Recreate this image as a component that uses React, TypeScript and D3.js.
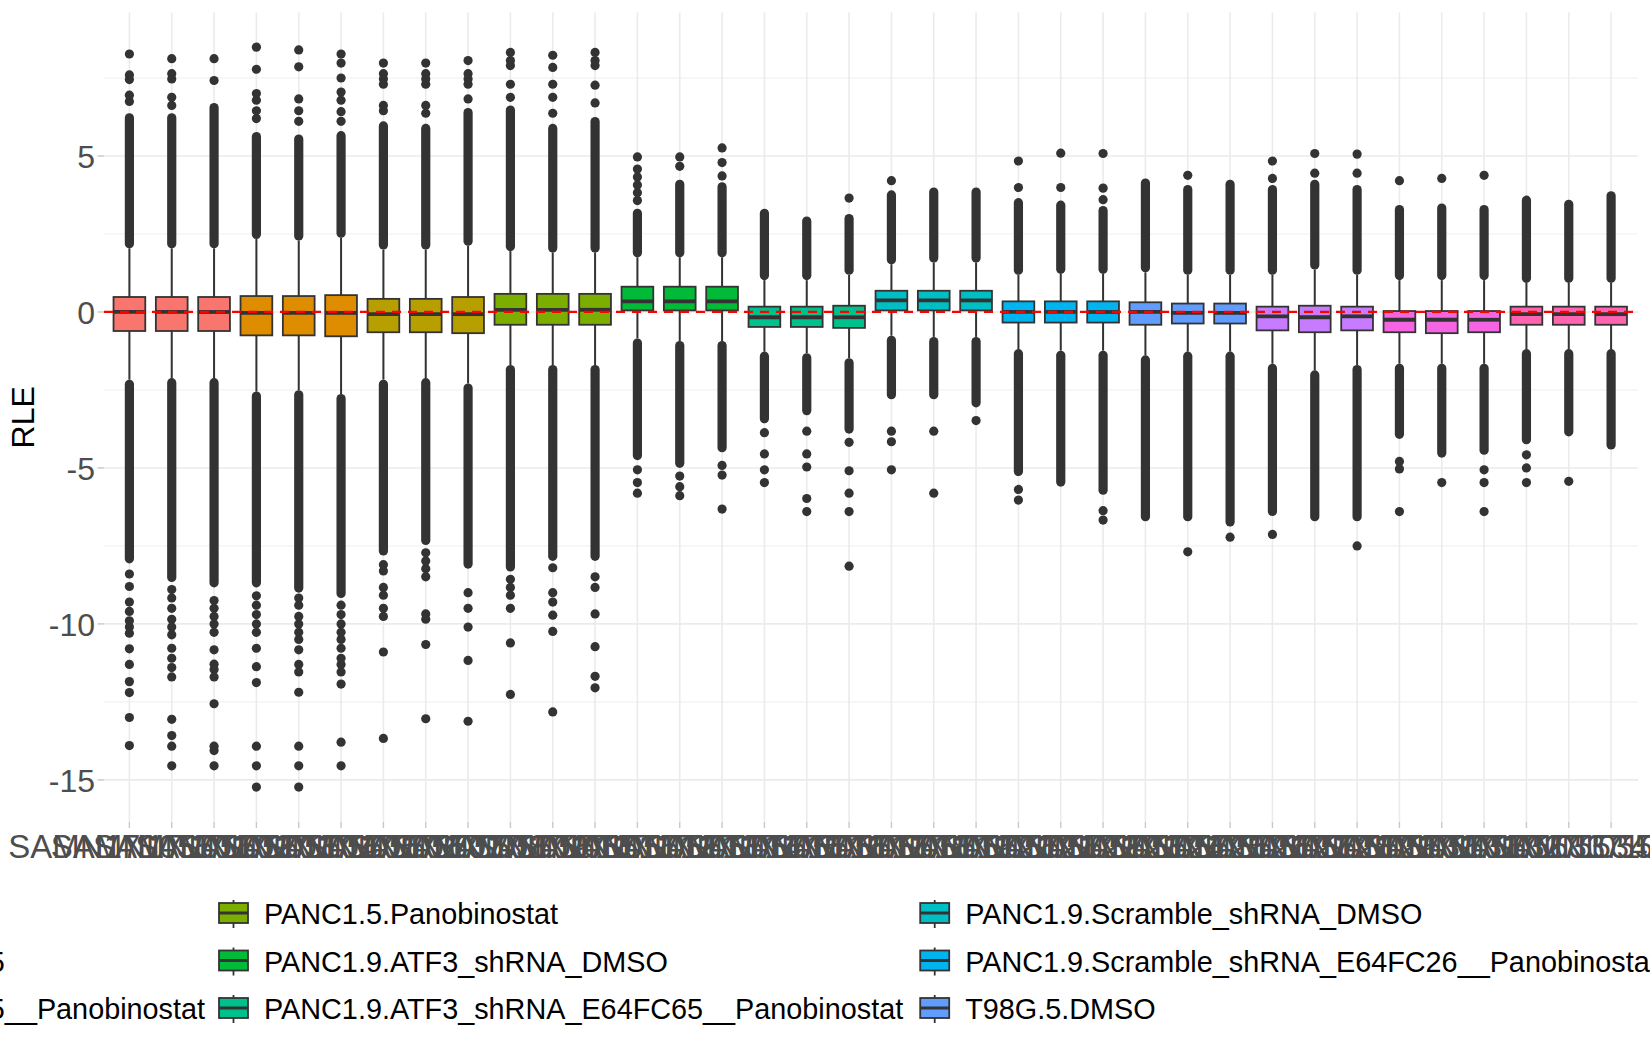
import * as d3 from 'd3';

// sample accessions in plotting order
const sampleIds = [
  'SAMN17105501', 'SAMN17105502', 'SAMN17105503', 'SAMN17105504', 'SAMN17105505', 'SAMN17105506',
  'SAMN17105507', 'SAMN17105508', 'SAMN17105509', 'SAMN17105510', 'SAMN17105511', 'SAMN17105512',
  'SAMN17105513', 'SAMN17105514', 'SAMN17105515', 'SAMN17105516', 'SAMN17105517', 'SAMN17105518',
  'SAMN17105519', 'SAMN17105520', 'SAMN17105521', 'SAMN17105522', 'SAMN17105523', 'SAMN17105524',
  'SAMN17105525', 'SAMN17105526', 'SAMN17105527', 'SAMN17105528', 'SAMN17105529', 'SAMN17105530',
  'SAMN17105531', 'SAMN17105532', 'SAMN17105533', 'SAMN17105534', 'SAMN17105535', 'SAMN17105565',
];

const sampleGroup = [
  0, 0, 0, 1, 1, 1, 2, 2, 2, 3, 3, 3,
  4, 4, 4, 5, 5, 5, 6, 6, 6, 7, 7, 7,
  8, 8, 8, 9, 9, 9, 10, 10, 10, 11, 11, 11,
];

const groupNames = [
  'PANC1.5.DMSO',
  'PANC1.5.E64FC65',
  'PANC1.5.E64FC65__Panobinostat',
  'PANC1.5.Panobinostat',
  'PANC1.9.ATF3_shRNA_DMSO',
  'PANC1.9.ATF3_shRNA_E64FC65__Panobinostat',
  'PANC1.9.Scramble_shRNA_DMSO',
  'PANC1.9.Scramble_shRNA_E64FC26__Panobinostat',
  'T98G.5.DMSO',
  'T98G.5.E64FC65',
  'T98G.5.E64FC65__Panobinostat',
  'T98G.5.Panobinostat',
];

const groupColors = [
  '#F8766D', '#DE8C00', '#B79F00', '#7CAE00', '#00BA38', '#00C08B',
  '#00BFC4', '#00B4F0', '#619CFF', '#C77CFF', '#F564E3', '#FF64B0',
];

const q1Values = [
  -0.61, -0.61, -0.61, -0.75, -0.75, -0.78, -0.65, -0.65, -0.68, -0.41, -0.41, -0.41,
  0.05, 0.05, 0.05, -0.48, -0.48, -0.51, 0.05, 0.05, 0.05, -0.34, -0.34, -0.34,
  -0.41, -0.37, -0.37, -0.59, -0.65, -0.59, -0.65, -0.68, -0.65, -0.41, -0.41, -0.41,
];
const medianValues = [
  0, 0, 0, -0.03, -0.03, -0.03, -0.07, -0.07, -0.07, 0.07, 0.07, 0.07,
  0.34, 0.34, 0.34, -0.17, -0.17, -0.17, 0.37, 0.37, 0.37, 0, 0, 0,
  0, -0.03, -0.03, -0.14, -0.17, -0.14, -0.25, -0.25, -0.25, -0.07, -0.07, -0.07,
];
const q3Values = [
  0.48, 0.48, 0.48, 0.51, 0.51, 0.54, 0.42, 0.42, 0.48, 0.58, 0.58, 0.58,
  0.81, 0.81, 0.81, 0.17, 0.17, 0.2, 0.68, 0.68, 0.68, 0.34, 0.34, 0.34,
  0.31, 0.27, 0.27, 0.17, 0.2, 0.17, 0.03, 0.03, 0.03, 0.17, 0.17, 0.17,
];
const lowerWhiskers = [
  -2.17, -2.12, -2.12, -2.55, -2.51, -2.63, -2.17, -2.12, -2.29, -1.7, -1.7, -1.7,
  -0.85, -0.93, -0.93, -1.27, -1.32, -1.48, -0.76, -0.8, -0.8, -1.19, -1.24, -1.24,
  -1.39, -1.27, -1.27, -1.66, -1.87, -1.7, -1.66, -1.66, -1.66, -1.19, -1.19, -1.19,
];
const upperWhiskers = [
  2.04, 2.04, 2.04, 2.34, 2.29, 2.38, 2.0, 2.0, 2.12, 1.95, 1.9, 1.9,
  1.75, 1.75, 1.75, 1.02, 1.02, 1.19, 1.53, 1.58, 1.58, 1.19, 1.22, 1.22,
  1.27, 1.19, 1.19, 1.19, 1.36, 1.19, 1.02, 1.02, 1.02, 0.93, 0.93, 0.93,
];

// outer edge of the dense cloud of outliers beyond each whisker
const upperCloudEnds = [
  6.37, 6.37, 6.7, 5.77, 5.69, 5.8, 6.11, 6.03, 6.54, 6.62, 6.03, 6.25,
  3.31, 4.24, 4.16, 3.31, 3.06, 3.14, 3.9, 3.99, 3.99, 3.65, 3.57, 3.4,
  4.28, 4.07, 4.24, 4.07, 4.24, 4.07, 3.43, 3.48, 3.43, 3.73, 3.6, 3.87,
];
const lowerCloudEnds = [
  -8.06, -8.66, -8.83, -8.83, -9.0, -9.17, -7.81, -7.47, -8.23, -8.32, -7.98, -7.98,
  -4.75, -5.0, -4.5, -3.57, -3.31, -3.9, -2.8, -2.8, -3.06, -5.26, -5.6, -5.86,
  -6.71, -6.71, -6.88, -6.54, -6.71, -6.71, -4.07, -4.67, -4.58, -4.24, -3.99, -4.41,
];

// isolated outliers
const upperOutliers = [
  [6.75, 6.95, 7.45, 7.6, 8.27],
  [6.62, 6.88, 7.47, 7.64, 8.12],
  [7.42, 8.12],
  [6.2, 6.45, 6.79, 7.0, 7.78, 8.49],
  [6.11, 6.45, 6.83, 7.86, 8.4],
  [6.11, 6.42, 6.79, 7.05, 7.5, 7.98, 8.27],
  [6.45, 6.62, 7.3, 7.47, 7.64, 7.98],
  [6.37, 6.62, 7.3, 7.47, 7.64, 7.98],
  [6.83, 7.3, 7.47, 7.64, 8.06],
  [6.88, 7.3, 7.9, 8.06, 8.32],
  [6.37, 6.88, 7.3, 7.84, 8.23],
  [6.7, 7.27, 7.9, 8.06, 8.32],
  [3.57, 3.82, 4.07, 4.33, 4.58, 4.97],
  [4.67, 4.97],
  [4.36, 4.79, 5.26],
  [],
  [],
  [3.65],
  [4.21],
  [],
  [],
  [3.99, 4.84],
  [3.99, 5.09],
  [3.6, 3.97, 5.08],
  [],
  [4.38],
  [],
  [4.28, 4.84],
  [4.45, 5.08],
  [4.45, 5.06],
  [4.21],
  [4.28],
  [4.38],
  [],
  [],
  [],
];
const lowerOutliers = [
  [-8.4, -8.8, -9.3, -9.6, -9.9, -10.1, -10.3, -10.8, -11.3, -11.85, -12.2, -13.0, -13.9],
  [-8.9, -9.17, -9.5, -9.85, -10.1, -10.35, -10.78, -11.1, -11.4, -11.7, -13.06, -13.58, -13.92, -14.55],
  [-9.25, -9.5, -9.76, -10.0, -10.27, -10.83, -11.29, -11.46, -11.7, -12.56, -13.92, -14.06, -14.55],
  [-9.1, -9.4, -9.7, -10.0, -10.27, -10.78, -11.37, -11.88, -13.92, -14.55, -15.23],
  [-9.17, -9.4, -9.76, -10.0, -10.27, -10.5, -10.83, -11.3, -11.54, -12.19, -13.92, -14.55, -15.23],
  [-9.4, -9.7, -10.0, -10.27, -10.5, -10.78, -11.1, -11.3, -11.54, -11.93, -13.79, -14.55],
  [-8.1, -8.3, -8.83, -9.08, -9.5, -9.76, -10.9, -13.67],
  [-7.72, -7.98, -8.23, -8.49, -9.68, -9.85, -10.66, -13.04],
  [-9.0, -9.5, -10.1, -11.17, -13.12],
  [-8.57, -8.83, -9.08, -9.5, -10.61, -12.26],
  [-8.2, -9.0, -9.3, -9.72, -10.24, -12.82],
  [-8.49, -8.83, -9.68, -10.73, -11.68, -12.05],
  [-5.06, -5.47, -5.81],
  [-5.26, -5.6, -5.89],
  [-4.92, -5.23, -6.32],
  [-3.87, -4.55, -5.06, -5.47],
  [-3.82, -4.55, -4.97, -5.98, -6.4],
  [-4.18, -5.09, -5.81, -6.4, -8.15],
  [-3.82, -4.16, -5.06],
  [-3.82, -5.81],
  [-3.48],
  [-5.69, -6.03],
  [],
  [-6.37, -6.67],
  [],
  [-7.69],
  [-7.22],
  [-7.13],
  [],
  [-7.5],
  [-4.79, -5.03, -6.4],
  [-5.47],
  [-5.06, -5.47, -6.4],
  [-4.58, -5.0, -5.47],
  [-5.43],
  [],
];

const majorTicks = [-15, -10, -5, 0, 5];
const minorTicks = [-12.5, -7.5, -2.5, 2.5, 7.5];

const width = 1650;
const height = 1050;
const panel = { left: 104, right: 1636.5, top: 12.5, bottom: 822 };
const font = "'Liberation Sans', Arial, Helvetica, sans-serif";
const ink = '#333333';
const dotR = 4.6;

const measure = (text: string, size: number) => {
  const ctx = document.createElement('canvas').getContext('2d');
  if (!ctx) return text.length * size * 0.55;
  ctx.font = `${size}px ${font}`;
  return ctx.measureText(text).width;
};

export default function App() {
  const x = d3.scalePoint<string>().domain(sampleIds).range([panel.left, panel.right]).padding(0.6);
  const y = d3.scaleLinear().domain([-16.35, 9.6]).range([panel.bottom, panel.top]);
  const boxW = x.step() * 0.75;

  // legend: 3 rows, filled column by column
  const legendSize = 28.8;
  const keyW = 29;
  const textGap = 45;
  const colGap = 14;
  const nCols = Math.ceil(groupNames.length / 3);
  const colWidths = d3.range(nCols).map((c) => {
    const labels = groupNames.slice(c * 3, c * 3 + 3);
    return textGap + (d3.max(labels, (l) => measure(l, legendSize)) as number) + colGap;
  });
  const colX: number[] = [];
  colX[1] = 219;
  colX[0] = colX[1] - colWidths[0];
  for (let c = 2; c < nCols; c++) colX[c] = colX[c - 1] + colWidths[c - 1] + 3;
  const rowY = [913, 960.5, 1008];

  return (
    <svg
      width={width}
      height={height}
      style={{ position: 'absolute', left: 0, top: 0, background: '#fff' }}
      fontFamily={font}
    >
      {/* grid */}
      {minorTicks.map((t) => (
        <line key={`mi${t}`} x1={panel.left} x2={panel.right + 1.5} y1={y(t)} y2={y(t)} stroke="#EBEBEB" strokeWidth={0.8} />
      ))}
      {majorTicks.map((t) => (
        <line key={`ma${t}`} x1={panel.left} x2={panel.right + 1.5} y1={y(t)} y2={y(t)} stroke="#EBEBEB" strokeWidth={1.6} />
      ))}
      {sampleIds.map((s) => (
        <line key={`v${s}`} x1={x(s)} x2={x(s)} y1={panel.top} y2={panel.bottom} stroke="#EBEBEB" strokeWidth={1.6} />
      ))}

      {/* axes */}
      {majorTicks.map((t) => (
        <g key={`yt${t}`}>
          <line x1={97.5} x2={panel.left} y1={y(t)} y2={y(t)} stroke="#C8C8C8" strokeWidth={1.4} />
          <text x={95} y={y(t) + 12} textAnchor="end" fontSize={32} fill="#4D4D4D">
            {t}
          </text>
        </g>
      ))}
      {sampleIds.map((s) => (
        <g key={`xt${s}`}>
          <line x1={x(s)} x2={x(s)} y1={panel.bottom} y2={panel.bottom + 6} stroke="#C8C8C8" strokeWidth={1.4} />
          <text x={x(s)} y={857.5} textAnchor="middle" fontSize={33} fill="#4D4D4D">
            {s}
          </text>
        </g>
      ))}
      <text transform={`translate(34,${(panel.top + panel.bottom) / 2}) rotate(-90)`} textAnchor="middle" fontSize={32} fill="#000">
        RLE
      </text>

      {/* boxes */}
      {sampleIds.map((s, i) => {
        const cx = x(s) as number;
        const fill = groupColors[sampleGroup[i]];
        const upStart = y(upperWhiskers[i]) - dotR;
        const upEnd = y(upperCloudEnds[i]) + dotR;
        const loStart = y(lowerWhiskers[i]) + dotR;
        const loEnd = y(lowerCloudEnds[i]) - dotR;
        return (
          <g key={`b${s}`}>
            <line x1={cx} x2={cx} y1={y(q3Values[i])} y2={y(upperWhiskers[i])} stroke={ink} strokeWidth={2} />
            <line x1={cx} x2={cx} y1={y(q1Values[i])} y2={y(lowerWhiskers[i])} stroke={ink} strokeWidth={2} />
            {upEnd < upStart && (
              <line x1={cx} x2={cx} y1={upStart} y2={upEnd} stroke={ink} strokeWidth={dotR * 2} strokeLinecap="round" />
            )}
            {loEnd > loStart && (
              <line x1={cx} x2={cx} y1={loStart} y2={loEnd} stroke={ink} strokeWidth={dotR * 2} strokeLinecap="round" />
            )}
            {upperOutliers[i].concat(lowerOutliers[i]).map((v, j) => (
              <circle key={j} cx={cx} cy={y(v)} r={dotR} fill={ink} />
            ))}
            <rect
              x={cx - boxW / 2}
              y={y(q3Values[i])}
              width={boxW}
              height={y(q1Values[i]) - y(q3Values[i])}
              fill={fill}
              stroke={ink}
              strokeWidth={1.8}
            />
            <line x1={cx - boxW / 2} x2={cx + boxW / 2} y1={y(medianValues[i])} y2={y(medianValues[i])} stroke={ink} strokeWidth={3.8} />
          </g>
        );
      })}

      {/* reference line */}
      <line x1={panel.left} x2={panel.right + 1.5} y1={y(0)} y2={y(0)} stroke="#FF0000" strokeWidth={2.2} strokeDasharray="9,7" />

      {/* legend */}
      {groupNames.map((name, k) => {
        const c = Math.floor(k / 3);
        const cy = rowY[k % 3];
        const kx = colX[c];
        return (
          <g key={`lg${name}`}>
            <line x1={kx + keyW / 2} x2={kx + keyW / 2} y1={cy - 13} y2={cy + 15} stroke={ink} strokeWidth={1.8} />
            <rect x={kx} y={cy - 10} width={keyW} height={20} fill={groupColors[k]} stroke={ink} strokeWidth={1.8} />
            <line x1={kx} x2={kx + keyW} y1={cy} y2={cy} stroke={ink} strokeWidth={3} />
            <text x={kx + textGap} y={cy + 11} fontSize={legendSize} fill="#000">
              {name}
            </text>
          </g>
        );
      })}
    </svg>
  );
}
